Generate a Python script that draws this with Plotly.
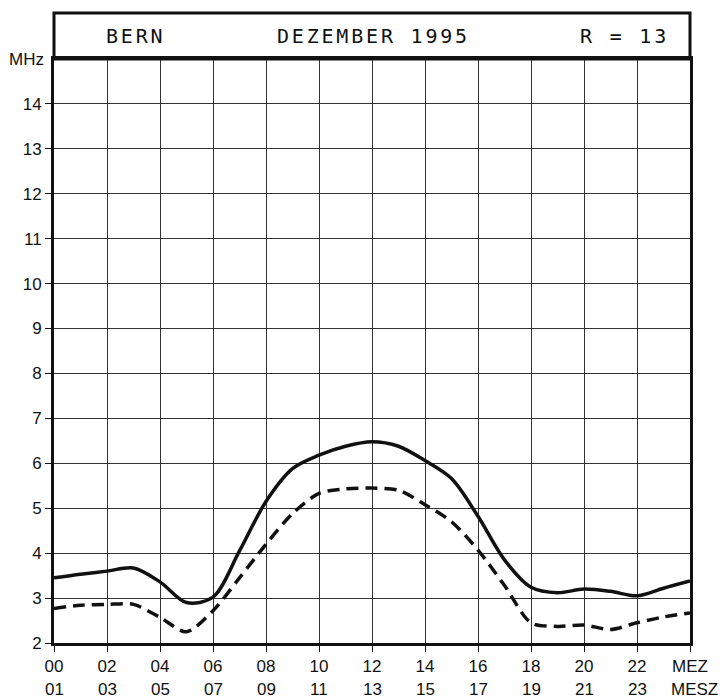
import plotly.graph_objects as go

hours = list(range(0, 25))
muf_solid = [3.45, 3.53, 3.60, 3.67, 3.36, 2.90, 3.02, 4.05, 5.15, 5.88, 6.18, 6.38, 6.48,
             6.38, 6.06, 5.66, 4.82, 3.85, 3.24, 3.12, 3.20, 3.15, 3.05, 3.22, 3.38]
fot_dashed = [2.77, 2.84, 2.86, 2.86, 2.57, 2.25, 2.72, 3.45, 4.20, 4.88, 5.33, 5.43, 5.45,
              5.40, 5.08, 4.70, 4.07, 3.28, 2.45, 2.37, 2.40, 2.30, 2.45, 2.58, 2.67]

x_tickvals = list(range(0, 25, 2))
x_ticktext_mez = ["00", "02", "04", "06", "08", "10", "12", "14", "16", "18", "20", "22", "MEZ"]
x_ticktext_mesz = ["01", "03", "05", "07", "09", "11", "13", "15", "17", "19", "21", "23", "MESZ"]
y_tickvals = list(range(2, 15))

header_left = "BERN"
header_mid = "DEZEMBER 1995"
header_right = "R = 13"

fig = go.Figure()
fig.add_trace(go.Scatter(x=hours, y=muf_solid, mode="lines",
                         line=dict(color="#111", width=3.5, shape="spline", smoothing=0.9),
                         showlegend=False, hoverinfo="skip"))
fig.add_trace(go.Scatter(x=hours, y=fot_dashed, mode="lines",
                         line=dict(color="#111", width=3.5, shape="spline", smoothing=0.8,
                                   dash="12px,7px"),
                         showlegend=False, hoverinfo="skip"))

font_main = "Liberation Sans, Arial, sans-serif"

fig.update_layout(
    width=723, height=700,
    margin=dict(l=54, r=33, t=59, b=57),
    paper_bgcolor="white", plot_bgcolor="white",
    font=dict(family=font_main, color="#111", size=17),
    xaxis=dict(range=[0, 24], tickvals=x_tickvals, ticktext=x_ticktext_mez,
               showgrid=True, gridcolor="#333", gridwidth=1.2,
               showline=True, linecolor="#111", linewidth=3, mirror=True,
               ticks="outside", ticklen=6, tickwidth=1.2, tickcolor="#111",
               tickfont=dict(size=17, family=font_main, color="#111"),
               zeroline=False, fixedrange=True),
    yaxis=dict(range=[2, 15], tickvals=y_tickvals,
               showgrid=True, gridcolor="#333", gridwidth=1.2,
               showline=True, linecolor="#111", linewidth=3, mirror=True,
               ticks="outside", ticklen=6, tickwidth=1.2, tickcolor="#111",
               tickfont=dict(size=17, family=font_main, color="#111"),
               zeroline=False, fixedrange=True),
)

# header box above plot
hdr_top = 1 + (59 - 13) / 584
fig.add_shape(type="rect", xref="paper", yref="paper", x0=0, x1=1, y0=1, y1=hdr_top,
              line=dict(color="#111", width=3), fillcolor="rgba(0,0,0,0)")

hdr_font = dict(family="DejaVu Sans Mono, monospace", size=20, color="#111")
hdr_y = (643 - 36.5) / 584
for txt, xpix in [(header_left, 135), (header_mid, 373), (header_right, 624)]:
    fig.add_annotation(text='<span style="letter-spacing:2.8px">' + txt + '</span>',
                       xref="paper", yref="paper",
                       x=(xpix - 54) / 636, y=hdr_y, showarrow=False,
                       xanchor="center", yanchor="middle", font=hdr_font)

fig.add_annotation(text="MHz", xref="paper", yref="paper", x=-0.012, y=1.0,
                   xanchor="right", yanchor="middle", showarrow=False,
                   font=dict(size=17, family=font_main, color="#111"))

for xv, txt in zip(x_tickvals, x_ticktext_mesz):
    fig.add_annotation(text=txt, xref="x", yref="paper", x=xv, y=(643 - 689) / 584,
                       xanchor="center", yanchor="middle", showarrow=False,
                       xshift=4 if txt == "MESZ" else 0,
                       font=dict(size=17, family=font_main, color="#111"))

fig.write_html("out.html", config={"displayModeBar": False},
               post_script="document.body.style.margin='0';")
